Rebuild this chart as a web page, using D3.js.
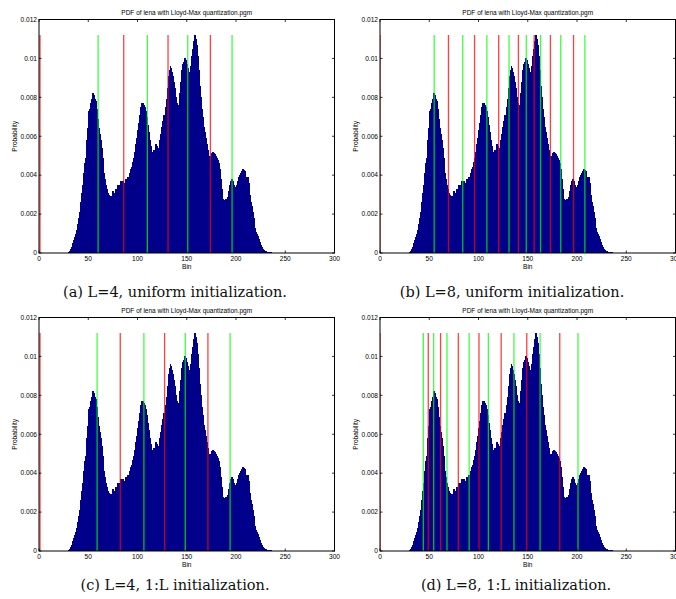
<!DOCTYPE html>
<html><head><meta charset="utf-8">
<script src="https://cdn.jsdelivr.net/npm/d3@7"></script>
<style>body{margin:0;background:#fff}svg{display:block}</style>
</head><body><svg id="chart" width="676" height="599"></svg>
<script>
// PDF of lena (bins 0..255)
const pdf = [
0,0,0,0,0,0,0,0,0,0,
0,0,0,0,0,0,0,0,0,0,
0,0,0,0,0,0,0,0,0.00001,0.00002,
0.00005,0.0001,0.0002,0.0003,0.0005,0.00065,0.0008,0.001,0.0012,0.0015,
0.0018,0.0021,0.0026,0.0031,0.0035,0.0041,0.0046,0.0049,0.0058,0.0064,
0.0073,0.0074,0.0077,0.0079,0.0082,0.0081,0.0079,0.0078,0.0074,0.0069,
0.0064,0.0061,0.0058,0.0054,0.0049,0.0041,0.0038,0.0037,0.0035,0.0033,
0.0031,0.003,0.0029,0.00295,0.0029,0.0032,0.0031,0.003,0.0033,0.0032,
0.0035,0.0034,0.0035,0.0037,0.0036,0.0037,0.0036,0.0036,0.0038,0.0038,
0.0039,0.0039,0.0041,0.0043,0.0044,0.0047,0.0049,0.0052,0.0056,0.0059,
0.0063,0.0067,0.0071,0.0075,0.0077,0.0077,0.0076,0.0075,0.0073,0.007,
0.0066,0.0062,0.0058,0.0055,0.0051,0.0052,0.0053,0.0052,0.0056,0.0055,
0.0053,0.0054,0.0058,0.0061,0.0065,0.0068,0.0071,0.0071,0.0075,0.0079,
0.0085,0.0091,0.0094,0.0096,0.0095,0.0093,0.0091,0.0088,0.0085,0.008,
0.0077,0.0074,0.0076,0.0082,0.0088,0.0094,0.0097,0.0098,0.01,0.0099,
0.0097,0.0095,0.0093,0.0092,0.0096,0.0101,0.0105,0.0109,0.0112,0.011,
0.0107,0.0101,0.0094,0.0086,0.008,0.0074,0.007,0.0065,0.0062,0.0059,
0.0056,0.0053,0.005,0.00485,0.005,0.00515,0.0052,0.00515,0.0051,0.005,
0.0049,0.0048,0.0046,0.0043,0.0038,0.0033,0.0028,0.0026,0.0027,0.00275,
0.0027,0.0029,0.0032,0.0035,0.0037,0.0038,0.0037,0.0035,0.0034,0.0033,
0.0034,0.0035,0.0037,0.0039,0.004,0.0041,0.0042,0.0043,0.00425,0.0042,
0.0039,0.0038,0.0039,0.0036,0.003,0.0026,0.0024,0.0021,0.0018,0.0013,
0.0011,0.001,0.00085,0.0007,0.00055,0.0004,0.0003,0.00022,0.00016,0.00012,
0.00009,0.00007,0.00005,0.00004,0.00003,0.00003,0.00002,0.00002,0.00002,0.00002,
0.00002,0.00001,0.00001,0.00001,0.00001,0.00001,0,0,0,0,
0,0,0,0,0,0
];

const xTicks = [0, 50, 100, 150, 200, 250, 300];
const yTicks = [0, 0.002, 0.004, 0.006, 0.008, 0.01, 0.012];
const yTickLabels = ["0", "0.002", "0.004", "0.006", "0.008", "0.01", "0.012"];
const chartTitle = "PDF of lena with Lloyd-Max quantization.pgm";
const xLabel = "Bin";
const yLabel = "Probability";

// decision boundaries (red) and reconstruction levels (green)
const boundsA = [1, 86, 131, 174];
const levelsA = [60, 110, 151, 196];
const boundsB = [0, 69.5, 96, 120.5, 140.5, 156.5, 173, 196.5];
const levelsB = [55, 84, 108.5, 131, 148.5, 163, 183.5, 208];
const boundsC = [1, 82.5, 127.5, 171.5];
const levelsC = [59, 106.5, 148.5, 194];
const boundsD = [0, 49, 61.5, 79.5, 100.5, 123, 149, 182.5];
const levelsD = [44, 54.5, 68, 90.5, 110, 136, 162.5, 201];

const captions = [
  "(a) L=4, uniform initialization.",
  "(b) L=8, uniform initialization.",
  "(c) L=4, 1:L initialization.",
  "(d) L=8, 1:L initialization."
];

const panels = [
  {left: 39, top: 19.5, cx: 175, cy: 297, bounds: boundsA, levels: levelsA, cap: captions[0]},
  {left: 380, top: 19.5, cx: 512, cy: 297, bounds: boundsB, levels: levelsB, cap: captions[1]},
  {left: 39, top: 317.5, cx: 175, cy: 590, bounds: boundsC, levels: levelsC, cap: captions[2]},
  {left: 380, top: 317.5, cx: 516, cy: 590, bounds: boundsD, levels: levelsD, cap: captions[3]}
];
const W = 295.5, H = 233.5;
const sans = "'Liberation Sans', Arial, Helvetica, sans-serif";
const svg = d3.select("#chart");
const maxP = d3.max(pdf);

panels.forEach((p, k) => {
  const g = svg.append("g").attr("transform", `translate(${p.left},${p.top})`);
  const x = d3.scaleLinear().domain([0, 300]).range([0, W]);
  const y = d3.scaleLinear().domain([0, 0.012]).range([H, 0]);
  const clipId = "clip" + k;
  g.append("clipPath").attr("id", clipId).append("rect").attr("width", W).attr("height", H);
  const plot = g.append("g").attr("clip-path", `url(#${clipId})`);
  const bw = x(1) - x(0);
  plot.append("g").attr("shape-rendering", "crispEdges")
    .selectAll("rect.bar").data(pdf).join("rect")
    .attr("class", "bar")
    .attr("x", (d, i) => x(i - 0.5))
    .attr("width", bw + 1)
    .attr("y", d => y(d))
    .attr("height", d => H - y(d))
    .attr("fill", "#00008a");
  plot.selectAll("line.bd").data(p.bounds).join("line")
    .attr("class", "bd")
    .attr("x1", d => x(d)).attr("x2", d => x(d))
    .attr("y1", y(0)).attr("y2", y(maxP))
    .attr("stroke", "#ff0000").attr("stroke-width", 1.3).attr("stroke-opacity", 0.75);
  plot.selectAll("line.lv").data(p.levels).join("line")
    .attr("class", "lv")
    .attr("x1", d => x(d)).attr("x2", d => x(d))
    .attr("y1", y(0)).attr("y2", y(maxP))
    .attr("stroke", "#00ff00").attr("stroke-width", 1.3).attr("stroke-opacity", 0.75);

  // box
  g.append("rect").attr("width", W).attr("height", H)
    .attr("fill", "none").attr("stroke", "#000").attr("stroke-width", 1);

  // ticks inside, mirrored
  const tl = 2.5;
  xTicks.forEach(t => {
    g.append("line").attr("x1", x(t)).attr("x2", x(t)).attr("y1", H).attr("y2", H - tl).attr("stroke", "#000").attr("stroke-width", 0.8);
    g.append("line").attr("x1", x(t)).attr("x2", x(t)).attr("y1", 0).attr("y2", tl).attr("stroke", "#000").attr("stroke-width", 0.8);
    g.append("text").attr("x", x(t)).attr("y", H + 7.5).attr("text-anchor", "middle")
      .attr("font-family", sans).attr("font-size", 6.6).text(t);
  });
  yTicks.forEach((t, i) => {
    g.append("line").attr("x1", 0).attr("x2", tl).attr("y1", y(t)).attr("y2", y(t)).attr("stroke", "#000").attr("stroke-width", 0.8);
    g.append("line").attr("x1", W).attr("x2", W - tl).attr("y1", y(t)).attr("y2", y(t)).attr("stroke", "#000").attr("stroke-width", 0.8);
    g.append("text").attr("x", -2).attr("y", y(t) + 2.3).attr("text-anchor", "end")
      .attr("font-family", sans).attr("font-size", 6.6).text(yTickLabels[i]);
  });
  g.append("text").attr("x", W / 2).attr("y", -5).attr("text-anchor", "middle")
    .attr("font-family", sans).attr("font-size", 6.5).text(chartTitle);
  g.append("text").attr("x", W / 2).attr("y", H + 16).attr("text-anchor", "middle")
    .attr("font-family", sans).attr("font-size", 6.6).text(xLabel);
  g.append("text").attr("transform", `translate(-22,${H / 2}) rotate(-90)`).attr("text-anchor", "middle")
    .attr("font-family", sans).attr("font-size", 6.6).text(yLabel);

  svg.append("text").attr("x", p.cx).attr("y", p.cy).attr("text-anchor", "middle")
    .attr("font-family", "'DejaVu Serif', serif").attr("font-size", 14.5).attr("fill", "#111").text(p.cap);
});
</script></body></html>
